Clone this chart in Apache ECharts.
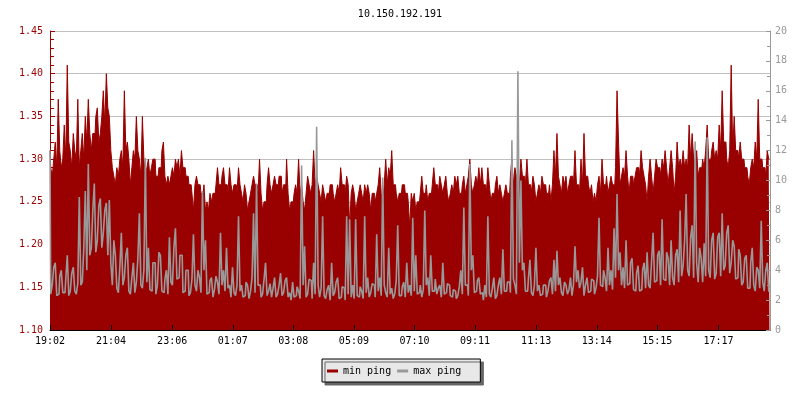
<!DOCTYPE html>
<html>
<head>
<meta charset="utf-8">
<script src="https://cdn.jsdelivr.net/npm/echarts@6/dist/echarts.min.js"></script>
<style>
html,body{margin:0;padding:0;background:#fff;}
#chart{width:800px;height:400px;}
</style>
</head>
<body>
<div id="chart"></div>
<script>
var titleText = '10.150.192.191';
var seriesNames = ['min ping', 'max ping'];
var tickLabels = ['19:02','21:04','23:06','01:07','03:08','05:09','07:10','09:11','11:13','13:14','15:15','17:17'];
var sampleMinutes = 3;

var minPing = [
1.31,1.29, 1.28,1.30, 1.32,1.29, 1.37,1.31, 1.29,1.30, 1.34,1.30, 1.41,1.32, 1.31,1.29, 1.33,1.31, 1.30,1.37,
1.29,1.31, 1.33,1.30, 1.35,1.32, 1.37,1.33, 1.31,1.33, 1.33,1.35, 1.36,1.32, 1.33,1.35, 1.38,1.34, 1.40,1.36,
1.35,1.31, 1.29,1.28, 1.27,1.29, 1.28,1.30, 1.31,1.29, 1.38,1.31, 1.32,1.30, 1.27,1.29, 1.31,1.30, 1.35,1.31,
1.30,1.28, 1.35,1.30, 1.28,1.29, 1.30,1.28, 1.29,1.30, 1.30,1.28, 1.28,1.29, 1.29,1.31, 1.32,1.28, 1.27,1.28,
1.27,1.28, 1.29,1.28, 1.30,1.29, 1.30,1.28, 1.31,1.29, 1.29,1.28, 1.28,1.27, 1.27,1.26, 1.24,1.27, 1.28,1.27,
1.27,1.26, 1.26,1.27, 1.24,1.25, 1.24,1.26, 1.25,1.26, 1.26,1.27, 1.29,1.27, 1.27,1.28, 1.29,1.27, 1.27,1.26,
1.29,1.27, 1.26,1.27, 1.27,1.26, 1.29,1.27, 1.26,1.25, 1.27,1.26, 1.24,1.25, 1.26,1.27, 1.28,1.27, 1.27,1.26,
1.30,1.26, 1.24,1.25, 1.25,1.27, 1.29,1.27, 1.26,1.27, 1.28,1.27, 1.27,1.28, 1.28,1.26, 1.27,1.27, 1.30,1.26,
1.24,1.25, 1.25,1.26, 1.27,1.26, 1.30,1.26, 1.27,1.25, 1.24,1.26, 1.28,1.27, 1.26,1.27, 1.31,1.27, 1.28,1.27,
1.26,1.25, 1.27,1.26, 1.25,1.26, 1.26,1.27, 1.27,1.26, 1.25,1.26, 1.27,1.26,
1.29,1.27, 1.27,1.26, 1.28,1.27, 1.22,1.26, 1.27,1.26, 1.24,1.25, 1.26,1.27, 1.26,1.25, 1.27,1.26, 1.27,1.26,
1.24,1.26, 1.26,1.25, 1.26,1.27, 1.29,1.26, 1.25,1.27, 1.30,1.27, 1.29,1.28, 1.31,1.27, 1.27,1.26, 1.25,1.26,
1.26,1.27, 1.27,1.26, 1.26,1.25, 1.22,1.26, 1.25,1.26, 1.24,1.25, 1.25,1.26, 1.28,1.26, 1.26,1.27, 1.25,1.26,
1.26,1.27, 1.29,1.27, 1.27,1.26, 1.28,1.27, 1.26,1.27, 1.28,1.26, 1.25,1.26, 1.27,1.26, 1.28,1.27, 1.28,1.26,
1.26,1.27, 1.28,1.26, 1.27,1.28, 1.30,1.27, 1.26,1.27, 1.28,1.27, 1.29,1.27,
1.29,1.27, 1.27,1.26, 1.29,1.27, 1.25,1.26, 1.26,1.27, 1.28,1.26, 1.27,1.26, 1.25,1.26, 1.27,1.26, 1.26,1.28,
1.30,1.27, 1.29,1.28, 1.28,1.27, 1.30,1.28, 1.28,1.27, 1.30,1.27, 1.27,1.26, 1.28,1.27, 1.25,1.26, 1.27,1.26,
1.28,1.27, 1.27,1.26, 1.26,1.27, 1.25,1.27, 1.31,1.28, 1.33,1.28, 1.27,1.26, 1.28,1.27, 1.28,1.26, 1.27,1.28,
1.28,1.27, 1.31,1.27, 1.27,1.26, 1.30,1.27, 1.33,1.28, 1.28,1.27, 1.26,1.27, 1.25,1.26, 1.25,1.27, 1.28,1.26,
1.30,1.27, 1.27,1.28, 1.26,1.27, 1.28,1.27, 1.27,1.29, 1.38,1.32, 1.27,1.28, 1.29,1.28,
1.31,1.28, 1.26,1.28, 1.28,1.27, 1.28,1.29, 1.29,1.28, 1.31,1.29, 1.28,1.27, 1.25,1.28, 1.30,1.28, 1.26,1.28,
1.30,1.29, 1.29,1.28, 1.30,1.29, 1.31,1.29, 1.27,1.29, 1.31,1.29, 1.26,1.28, 1.32,1.29, 1.30,1.29, 1.31,1.29,
1.30,1.29, 1.34,1.30, 1.33,1.30, 1.30,1.31, 1.28,1.29, 1.29,1.30, 1.29,1.31, 1.34,1.30, 1.30,1.31, 1.32,1.30,
1.31,1.30, 1.34,1.31, 1.38,1.32, 1.32,1.30, 1.29,1.31, 1.41,1.31, 1.35,1.31, 1.31,1.30, 1.32,1.30, 1.30,1.29,
1.29,1.28, 1.27,1.29, 1.30,1.29, 1.32,1.30, 1.37,1.30, 1.30,1.29, 1.29,1.28, 1.31,1.30
];

var maxPing = [
12.0,2.4, 3.0,4.2, 4.5,2.3, 2.4,3.6, 4.0,2.5, 2.5,3.4, 5.0,2.3, 2.6,3.8, 4.2,2.6, 2.4,3.1,
8.9,3.0, 3.2,5.5, 9.3,4.0, 11.1,5.0, 5.5,8.0, 9.8,5.2, 6.0,8.3, 8.8,5.5, 6.5,8.0, 8.5,5.0,
8.7,4.5, 3.0,6.0, 5.0,2.8, 2.5,4.2, 6.5,3.0, 3.5,5.0, 5.5,2.6, 2.4,3.5, 4.5,2.5, 3.2,4.8,
7.8,3.0, 2.8,4.0, 11.5,3.2, 5.5,2.7, 2.6,4.5, 4.5,2.4, 3.0,5.2, 5.0,2.6, 2.5,3.4, 4.0,2.4,
6.2,3.2, 3.0,5.5, 6.8,3.4, 3.5,5.0, 5.0,2.5, 2.6,4.0, 4.0,2.3, 2.5,3.4, 6.4,3.0, 2.6,4.0,
3.5,2.5, 9.3,4.0, 6.0,2.4, 2.5,3.3, 3.5,2.2, 2.7,3.6, 3.2,2.4, 6.5,3.0, 4.0,2.6, 5.5,2.8,
3.0,2.2, 4.2,2.5, 2.3,3.0, 7.6,2.6, 3.0,2.2, 2.3,3.2, 3.0,2.1, 2.6,3.5, 7.8,2.5, 9.8,3.0,
3.0,2.2, 2.4,3.4, 4.5,2.3, 2.6,3.1, 2.2,2.8, 3.5,2.2, 2.4,3.0, 3.8,2.3, 2.5,3.3, 3.5,2.2,
2.5,2.0, 3.2,2.2, 2.3,2.9, 2.6,2.1, 11.0,3.0, 5.6,2.2, 2.4,3.4, 3.3,2.1, 4.5,2.4, 13.6,3.0,
2.2,2.8, 7.6,2.3, 2.1,2.7, 3.0,2.0, 4.5,2.3, 2.5,3.2, 3.5,2.1,
2.2,2.9, 2.8,2.0, 7.6,2.4, 7.4,2.2, 3.0,2.1, 7.4,2.3, 2.2,2.9, 2.6,2.1, 7.6,2.5, 3.5,2.2,
2.5,3.1, 3.0,2.2, 6.4,2.6, 3.5,2.3, 10.2,3.0, 2.5,2.2, 5.5,2.4, 2.8,2.1, 2.4,3.3, 7.0,2.3,
2.3,2.9, 3.2,2.2, 4.5,2.5, 3.0,2.3, 7.5,2.6, 5.0,2.4, 2.5,3.0, 2.2,2.7, 8.0,3.0, 3.5,2.3,
5.0,2.6, 2.6,3.4, 2.4,2.8, 3.0,2.2, 4.5,2.4, 2.5,3.1, 3.0,2.3, 2.2,2.7, 2.6,2.1, 2.3,2.9,
4.0,2.4, 8.2,3.0, 3.0,2.3, 11.1,4.0, 5.0,2.5, 2.6,3.3, 3.5,2.4,
2.5,2.0, 3.0,2.2, 7.6,2.4, 2.2,2.8, 3.5,2.1, 2.3,3.0, 3.5,2.4, 5.4,2.6, 2.6,3.2, 3.2,2.5,
12.7,3.4, 3.0,2.4, 17.3,4.5, 10.0,4.0, 4.5,2.6, 2.6,3.4, 4.7,2.5, 2.3,3.0, 5.5,2.6, 3.0,2.3,
2.4,3.0, 3.0,2.2, 2.6,3.3, 3.5,2.4, 4.7,2.6, 5.3,3.0, 3.5,2.5, 2.3,3.2, 3.0,2.4, 2.7,3.5,
2.3,3.0, 5.6,3.2, 4.0,2.8, 3.2,4.2, 2.3,3.0, 3.5,2.5, 2.6,3.4, 3.3,2.4, 2.8,3.6, 7.5,3.0,
2.9,4.0, 3.5,2.6, 5.5,3.0, 4.0,2.7, 6.8,3.5, 9.1,4.0, 5.2,3.0, 4.2,2.8,
6.0,3.0, 3.1,4.5, 4.8,2.7, 2.6,3.8, 4.3,2.6, 2.7,4.0, 4.5,2.8, 5.2,3.0, 2.8,4.6, 6.5,3.2,
3.3,5.0, 5.3,3.0, 7.4,3.4, 3.3,5.2, 4.8,3.0, 6.0,3.5, 3.0,5.0, 5.4,3.2, 8.0,3.6, 4.3,6.0,
9.1,4.0, 3.6,6.2, 7.0,3.5, 12.6,4.5, 3.2,5.5, 4.8,3.2, 5.8,3.6, 12.9,4.0, 3.5,6.0, 6.5,3.4,
3.8,6.2, 6.5,3.6, 7.8,4.0, 4.3,6.5, 7.0,3.8, 4.5,6.0, 5.6,3.4, 3.5,5.4, 5.0,3.0, 3.2,4.8,
5.0,2.8, 2.8,4.5, 5.5,3.0, 2.6,4.2, 4.0,2.8, 7.3,3.2, 2.6,4.0, 4.5,2.6
];

var FONT = 'DejaVu Sans Mono';
var RED = '#990000';
var GRAY = '#999999';

function toMin(s) {
  var p = s.split(':');
  return (+p[0]) * 60 + (+p[1]);
}
var start = toMin(tickLabels[0]);
var tickPos = tickLabels.map(function (s) { return ((toMin(s) - start) + 1440) % 1440; });

var minData = minPing.map(function (v, i) { return [i * sampleMinutes, v]; });
var maxData = maxPing.map(function (v, i) { return [i * sampleMinutes, v]; });

var chart = echarts.init(document.getElementById('chart'), null, {renderer: 'canvas'});
chart.setOption({
  animation: false,
  backgroundColor: '#ffffff',
  title: {
    text: titleText, left: 'center', top: 4,
    textStyle: {fontFamily: FONT, fontSize: 10, fontWeight: 'normal', color: '#000'}
  },
  legend: {
    data: seriesNames,
    left: 322, top: 359,
    orient: 'horizontal',
    backgroundColor: '#e8e8e8',
    borderColor: '#000', borderWidth: 1, borderRadius: 0,
    padding: [7, 19, 6, 5],
    itemGap: 6, itemWidth: 11, itemHeight: 3, icon: 'rect',
    textStyle: {fontFamily: FONT, fontSize: 10, color: '#000'},
    shadowColor: '#666666', shadowBlur: 0, shadowOffsetX: 3, shadowOffsetY: 3
  },
  grid: {left: 50, right: 30, top: 31, bottom: 70, containLabel: false},
  xAxis: {
    type: 'value', min: 0, max: 1438, z: 10,
    axisLine: {show: true, lineStyle: {color: '#000', width: 1}},
    axisTick: {show: true, inside: true, length: 5, lineStyle: {color: '#000'}, customValues: tickPos},
    axisLabel: {
      customValues: tickPos, color: '#000', fontFamily: FONT, fontSize: 10, margin: 6,
      formatter: function (v) { var k = tickPos.indexOf(v); return k >= 0 ? tickLabels[k] : ''; }
    },
    splitLine: {show: false}
  },
  yAxis: [{
    type: 'value', min: 1.10, max: 1.45, interval: 0.05, position: 'left',
    axisLine: {show: true, lineStyle: {color: RED}},
    axisTick: {show: true, inside: true, length: 5, lineStyle: {color: RED}},
    minorTick: {show: true, splitNumber: 5, length: 4, lineStyle: {color: RED}},
    axisLabel: {color: RED, fontFamily: FONT, fontSize: 10, margin: 7,
      formatter: function (v) { return v.toFixed(2); }},
    splitLine: {show: true, lineStyle: {color: '#c0c0c0', width: 1}}
  }, {
    type: 'value', min: 0, max: 20, interval: 2, position: 'right', z: 10,
    axisLine: {show: true, lineStyle: {color: GRAY}},
    axisTick: {show: true, inside: true, length: 4, lineStyle: {color: GRAY}},
    minorTick: {show: true, splitNumber: 2, length: 3, lineStyle: {color: GRAY}},
    axisLabel: {color: GRAY, fontFamily: FONT, fontSize: 10, margin: 5},
    splitLine: {show: false}
  }],
  series: [{
    name: seriesNames[0], type: 'line', yAxisIndex: 0, step: 'middle',
    data: minData, symbol: 'none', color: RED,
    lineStyle: {color: RED, width: 1},
    areaStyle: {color: RED, opacity: 1, origin: 'start'},
    z: 2
  }, {
    name: seriesNames[1], type: 'line', yAxisIndex: 1, step: 'middle',
    data: maxData, symbol: 'none', color: GRAY,
    lineStyle: {color: GRAY, width: 1.6},
    z: 3
  }]
});
</script>
</body>
</html>
